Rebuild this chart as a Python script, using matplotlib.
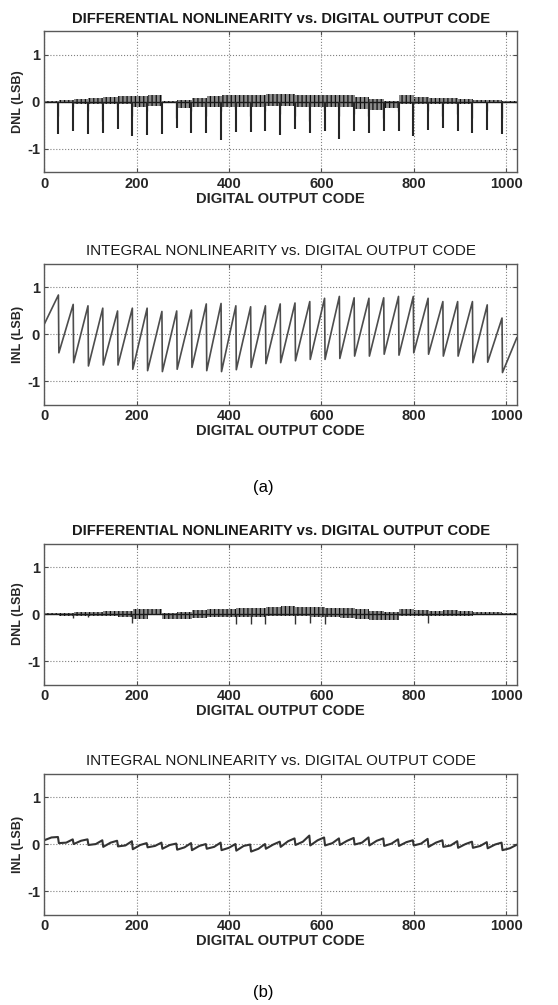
import numpy as np
import matplotlib
matplotlib.use('Agg')
import matplotlib.pyplot as plt

plt.rcParams['font.family'] = ['Liberation Sans', 'DejaVu Sans']
plt.rcParams['axes.unicode_minus'] = False
plt.rcParams['hatch.linewidth'] = 0.9

# 10-bit converter: codes 0..1023, 32 segments of 32 codes
n_codes = 1024
seg_len = 32
seg_edges = np.arange(0, n_codes + 1, seg_len)
drop_codes = np.arange(seg_len - 1, n_codes - 1, seg_len)   # 31, 63, ... 991

# ---- (a) DNL: code-to-code spread per segment + big missing-step spikes
dnl_a_up = [0.03, 0.05, 0.06, 0.08, 0.10, 0.12, 0.12, 0.15, 0.03, 0.05, 0.08,
            0.12, 0.14, 0.14, 0.15, 0.16, 0.17, 0.15, 0.15, 0.14, 0.14, 0.10,
            0.06, 0.03, 0.15, 0.10, 0.08, 0.08, 0.06, 0.05, 0.04, 0.03]
dnl_a_lo = [-0.03, -0.03, -0.04, -0.04, -0.05, -0.05, -0.10, -0.08, -0.02,
            -0.12, -0.10, -0.10, -0.10, -0.10, -0.10, -0.08, -0.08, -0.10,
            -0.10, -0.10, -0.10, -0.15, -0.18, -0.12, -0.05, -0.05, -0.05,
            -0.05, -0.04, -0.03, -0.03, -0.03]
dnl_a_spike = [-0.68, -0.62, -0.68, -0.65, -0.58, -0.72, -0.70, -0.68, -0.55,
               -0.65, -0.65, -0.82, -0.63, -0.63, -0.62, -0.70, -0.58, -0.65,
               -0.62, -0.78, -0.62, -0.65, -0.62, -0.62, -0.72, -0.60, -0.55,
               -0.62, -0.65, -0.60, -0.68]
dnl_a_spike2 = [-0.30, -0.10, -0.20, -0.40, -0.15, -0.30, -0.20, -0.10, -0.35,
                -0.20, -0.30, -0.20, -0.15, -0.30, -0.20, -0.25, -0.30, -0.40,
                -0.20, -0.30, -0.25, -0.30, -0.35, -0.20, -0.30, -0.20, -0.30,
                -0.25, -0.35, -0.20, -0.35]

# ---- (a) INL: value just before and just after each segment boundary
inl_a_start = 0.20
inl_a_peak = [0.83, 0.63, 0.60, 0.55, 0.49, 0.55, 0.55, 0.48, 0.49, 0.51, 0.64,
              0.65, 0.60, 0.58, 0.60, 0.64, 0.66, 0.69, 0.76, 0.80, 0.77, 0.76,
              0.77, 0.80, 0.80, 0.76, 0.69, 0.69, 0.69, 0.62, 0.34]
inl_a_trough = [-0.40, -0.61, -0.68, -0.66, -0.66, -0.75, -0.78, -0.80, -0.75,
                -0.71, -0.78, -0.80, -0.76, -0.71, -0.63, -0.61, -0.57, -0.54,
                -0.54, -0.52, -0.47, -0.47, -0.43, -0.45, -0.40, -0.43, -0.47,
                -0.47, -0.61, -0.60, -0.82]
inl_a_end = -0.08

# ---- (b) DNL
dnl_b_up = [0.02, 0.03, 0.04, 0.05, 0.06, 0.07, 0.10, 0.10, 0.02, 0.05, 0.08,
            0.10, 0.11, 0.12, 0.13, 0.15, 0.16, 0.15, 0.14, 0.13, 0.12, 0.10,
            0.07, 0.05, 0.10, 0.09, 0.07, 0.08, 0.06, 0.05, 0.04, 0.03]
dnl_b_lo = [-0.03, -0.04, -0.04, -0.04, -0.05, -0.06, -0.10, -0.03, -0.10,
            -0.10, -0.08, -0.07, -0.07, -0.06, -0.06, -0.05, -0.05, -0.05,
            -0.06, -0.07, -0.08, -0.10, -0.12, -0.13, -0.05, -0.05, -0.05,
            -0.04, -0.04, -0.03, -0.03, -0.03]
dnl_b_spike_codes = [63, 95, 191, 415, 447, 479, 543, 575, 607, 831]
dnl_b_spike = [-0.08, -0.06, -0.20, -0.22, -0.22, -0.22, -0.22, -0.20, -0.22, -0.20]

# ---- (b) INL: start, middle and end value of each 32-code segment
inl_b_trough = [0.08, 0.02, 0.00, -0.02, -0.06, -0.05, -0.11, -0.07, -0.10,
                -0.12, -0.13, -0.10, -0.13, -0.14, -0.16, -0.10, -0.06, -0.02,
                -0.03, -0.03, -0.02, -0.01, -0.03, -0.04, -0.04, -0.03, -0.06,
                -0.06, -0.08, -0.08, -0.09, -0.13]
inl_b_mid = [0.14, 0.03, 0.07, 0.00, 0.03, -0.03, -0.02, -0.04, -0.02, -0.07,
             -0.04, -0.06, -0.08, -0.04, -0.10, -0.01, 0.06, 0.05, 0.08, 0.02,
             0.07, 0.03, 0.07, 0.01, 0.04, 0.01, 0.03, -0.03, 0.00, -0.04, -0.01,
             -0.09]
inl_b_peak = [0.15, 0.10, 0.10, 0.08, 0.07, 0.06, 0.02, 0.03, 0.01, 0.02, 0.00,
              0.03, 0.00, -0.01, 0.00, 0.05, 0.12, 0.18, 0.14, 0.12, 0.13, 0.14,
              0.12, 0.10, 0.08, 0.11, 0.08, 0.06, 0.05, 0.04, 0.03, -0.02]

xticks = [0, 200, 400, 600, 800, 1000]
yticks = [-1, 0, 1]
dnl_title = 'DIFFERENTIAL NONLINEARITY vs. DIGITAL OUTPUT CODE'
inl_title = 'INTEGRAL NONLINEARITY vs. DIGITAL OUTPUT CODE'


def style_axes(ax, title, ylabel, bold_title):
    ax.set_xlim(0, n_codes)
    ax.set_ylim(-1.5, 1.5)
    ax.set_xticks(xticks)
    ax.set_yticks(yticks)
    ax.grid(True, linestyle=':', color='0.5', linewidth=0.8)
    ax.tick_params(direction='in', length=3, top=True, right=True,
                   labelsize=10.5, pad=3, color='0.3')
    for lab in ax.get_xticklabels() + ax.get_yticklabels():
        lab.set_fontweight('bold')
        lab.set_color('0.15')
    for sp in ax.spines.values():
        sp.set_color('0.35')
        sp.set_linewidth(1.0)
    ax.set_title(title, fontsize=10.6 if bold_title else 10.9,
                 fontweight='bold' if bold_title else 'normal', pad=6,
                 color='0.1')
    ax.set_xlabel('DIGITAL OUTPUT CODE', fontsize=10.6, fontweight='bold',
                  labelpad=1, color='0.15')
    ax.set_ylabel(ylabel, fontsize=9, fontweight='bold', labelpad=2,
                  color='0.15')


def draw_dnl(ax, up, lo):
    top = list(up) + [up[-1]]
    bot = list(lo) + [lo[-1]]
    ax.fill_between(seg_edges, top, bot, step='post', facecolor='0.35',
                    alpha=0.7, linewidth=0)
    ax.fill_between(seg_edges, top, bot, step='post', facecolor='none',
                    edgecolor='0.05', hatch='||||', linewidth=0)
    ax.plot([0, n_codes - 1], [0, 0], color='0.1', lw=1.0)


def inl_a_vertices():
    xs, ys = [0], [inl_a_start]
    for code, pk, tr in zip(drop_codes, inl_a_peak, inl_a_trough):
        xs += [code, code + 1]
        ys += [pk, tr]
    xs.append(n_codes - 1)
    ys.append(inl_a_end)
    return xs, ys


def inl_b_vertices():
    xs, ys = [], []
    for start, tr, md, pk in zip(seg_edges[:-1], inl_b_trough, inl_b_mid,
                                 inl_b_peak):
        xs += [start, start + seg_len // 2, start + seg_len - 2]
        ys += [tr, md, pk]
    return xs, ys


fig = plt.figure(figsize=(5.58, 10.05), dpi=100)
left, width, height = 0.079, 0.848, 0.1403
ax1 = fig.add_axes([left, 0.8284, width, height])
ax2 = fig.add_axes([left, 0.5975, width, height])
ax3 = fig.add_axes([left, 0.3189, width, height])
ax4 = fig.add_axes([left, 0.0900, width, height])

# (a) DNL
draw_dnl(ax1, dnl_a_up, dnl_a_lo)
ax1.vlines(drop_codes - 1, 0, dnl_a_spike2, color='0.55', lw=1.0)
ax1.vlines(drop_codes, 0, dnl_a_spike, color='0.15', lw=1.5)
style_axes(ax1, dnl_title, 'DNL (LSB)', True)

# (a) INL
xa, ya = inl_a_vertices()
ax2.plot(xa, ya, color='0.3', lw=1.2)
style_axes(ax2, inl_title, 'INL (LSB)', False)

# (b) DNL
draw_dnl(ax3, dnl_b_up, dnl_b_lo)
ax3.vlines(dnl_b_spike_codes, 0, dnl_b_spike, color='0.2', lw=1.0)
style_axes(ax3, dnl_title, 'DNL (LSB)', True)

# (b) INL
xb, yb = inl_b_vertices()
ax4.plot(xb, yb, color='0.2', lw=1.5)
style_axes(ax4, inl_title, 'INL (LSB)', False)

fig.text(0.471, 1 - 487 / 1005, '(a)', ha='center', va='center', fontsize=12)
fig.text(0.471, 1 - 992 / 1005, '(b)', ha='center', va='center', fontsize=12)

fig.savefig('out.png', dpi=100)
